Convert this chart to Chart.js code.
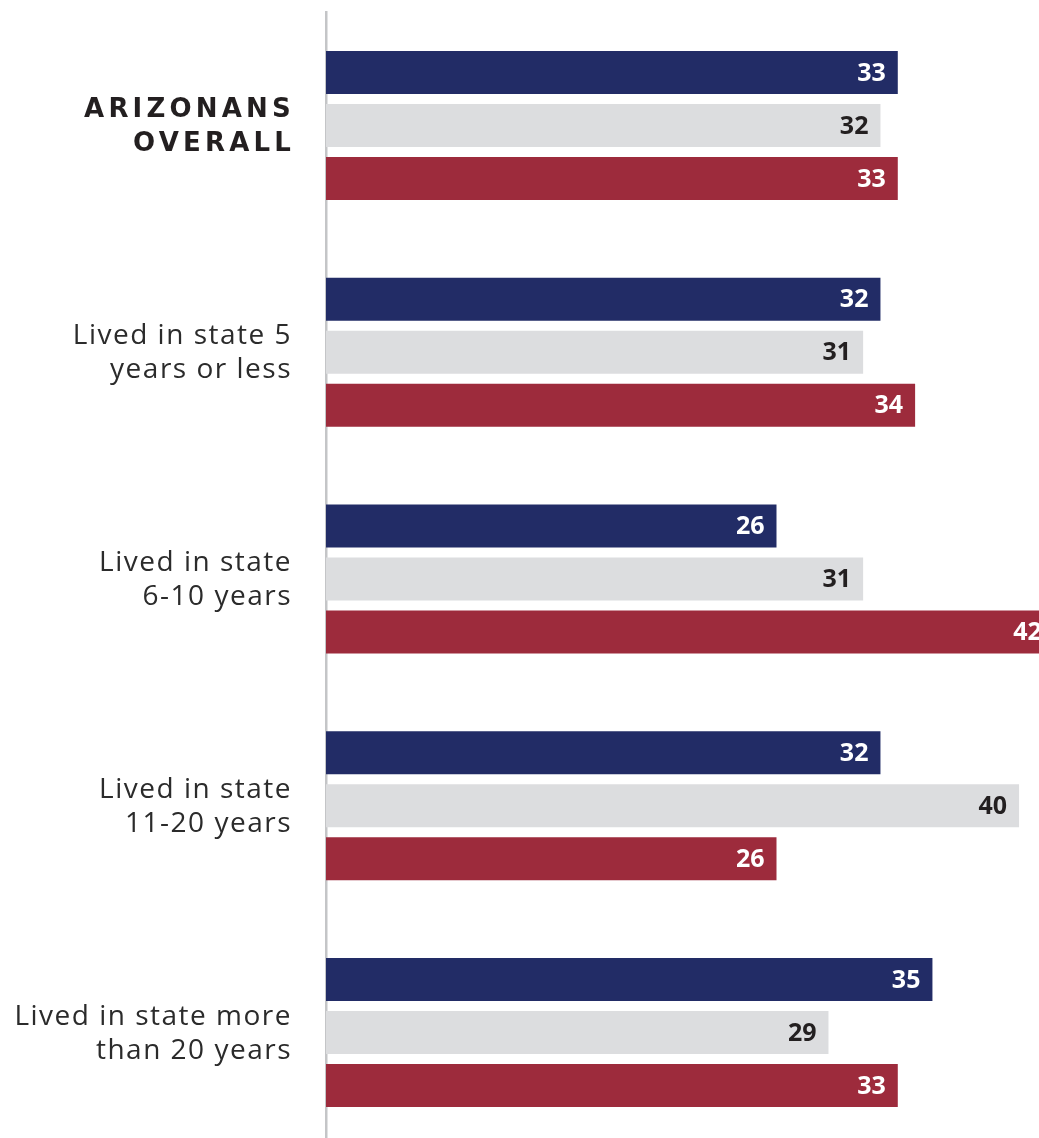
<!DOCTYPE html>
<html>
<head>
<meta charset="utf-8">
<script src="https://cdn.jsdelivr.net/npm/chart.js@4"></script>
<style>
  html, body { margin: 0; padding: 0; background: #fff; overflow: hidden; }
  #graph { position: absolute; left: 0; top: 0; }
</style>
</head>
<body>
<canvas id="graph" width="1039" height="1146"></canvas>
<script>
// categories (each label split into lines)
const categories = [
  ['ARIZONANS', 'OVERALL'],
  ['Lived in state 5', 'years or less'],
  ['Lived in state', '6-10 years'],
  ['Lived in state', '11-20 years'],
  ['Lived in state more', 'than 20 years']
]

const navyValues = [33, 32, 26, 32, 35]
const grayValues = [32, 31, 31, 40, 29]
const redValues = [33, 34, 42, 26, 33]

const seriesNames = ['Series A', 'Series B', 'Series C']

// value labels at the inner end of each bar
const valueLabels = {
  id: 'valueLabels',
  afterDatasetsDraw(chart) {
    const ctx = chart.ctx
    ctx.save()
    ctx.font = 'bold 25px "Open Sans"'
    ctx.textAlign = 'right'
    ctx.textBaseline = 'middle'
    chart.data.datasets.forEach((ds, di) => {
      const meta = chart.getDatasetMeta(di)
      meta.data.forEach((bar, i) => {
        ctx.fillStyle = ds.labelColor
        ctx.fillText(ds.data[i], bar.x - 12, bar.y + 1)
      })
    })
    ctx.restore()
  }
}

// category labels on the left, two lines each
const categoryLabels = {
  id: 'categoryLabels',
  afterDraw(chart) {
    const ctx = chart.ctx
    const yScale = chart.scales.y
    ctx.save()
    ctx.textAlign = 'right'
    ctx.textBaseline = 'middle'
    categories.forEach((lines, i) => {
      const y = yScale.getPixelForValue(i)
      if (i === 0) {
        ctx.font = 'bold 26px "DejaVu Sans"'
        ctx.letterSpacing = '4.2px'
        ctx.fillStyle = '#231f20'
        ctx.fillText(lines[0], 295, y - 15)
        ctx.fillText(lines[1], 295, y + 19)
      } else {
        ctx.font = '28px "Open Sans"'
        ctx.letterSpacing = '1.5px'
        ctx.fillStyle = '#2b2b2b'
        ctx.fillText(lines[0], 292, y - 16)
        ctx.fillText(lines[1], 292, y + 18)
      }
    })
    ctx.restore()
  }
}

const cfg = {
  type: 'bar',
  data: {
    labels: categories.map(c => c.join(' ')),
    datasets: [
      { label: seriesNames[0], data: navyValues, backgroundColor: '#222c66', labelColor: '#ffffff' },
      { label: seriesNames[1], data: grayValues, backgroundColor: '#dcdddf', labelColor: '#231f20' },
      { label: seriesNames[2], data: redValues, backgroundColor: '#9d2b3c', labelColor: '#ffffff' }
    ]
  },
  options: {
    indexAxis: 'y',
    responsive: false,
    animation: false,
    devicePixelRatio: 1,
    categoryPercentage: 0.701,
    barPercentage: 0.811,
    layout: { padding: { top: 12, right: 0, bottom: 0, left: 0 } },
    plugins: {
      legend: { display: false },
      tooltip: { enabled: false }
    },
    scales: {
      x: {
        display: false,
        min: 0,
        max: 41.15
      },
      y: {
        grid: { display: false },
        border: { display: true, color: '#c4c5c7', width: 2.5 },
        ticks: { display: false },
        afterFit(scale) { scale.width = 326 }
      }
    }
  },
  plugins: [valueLabels, categoryLabels]
}

new Chart(document.querySelector('#graph'), cfg)
</script>
</body>
</html>
